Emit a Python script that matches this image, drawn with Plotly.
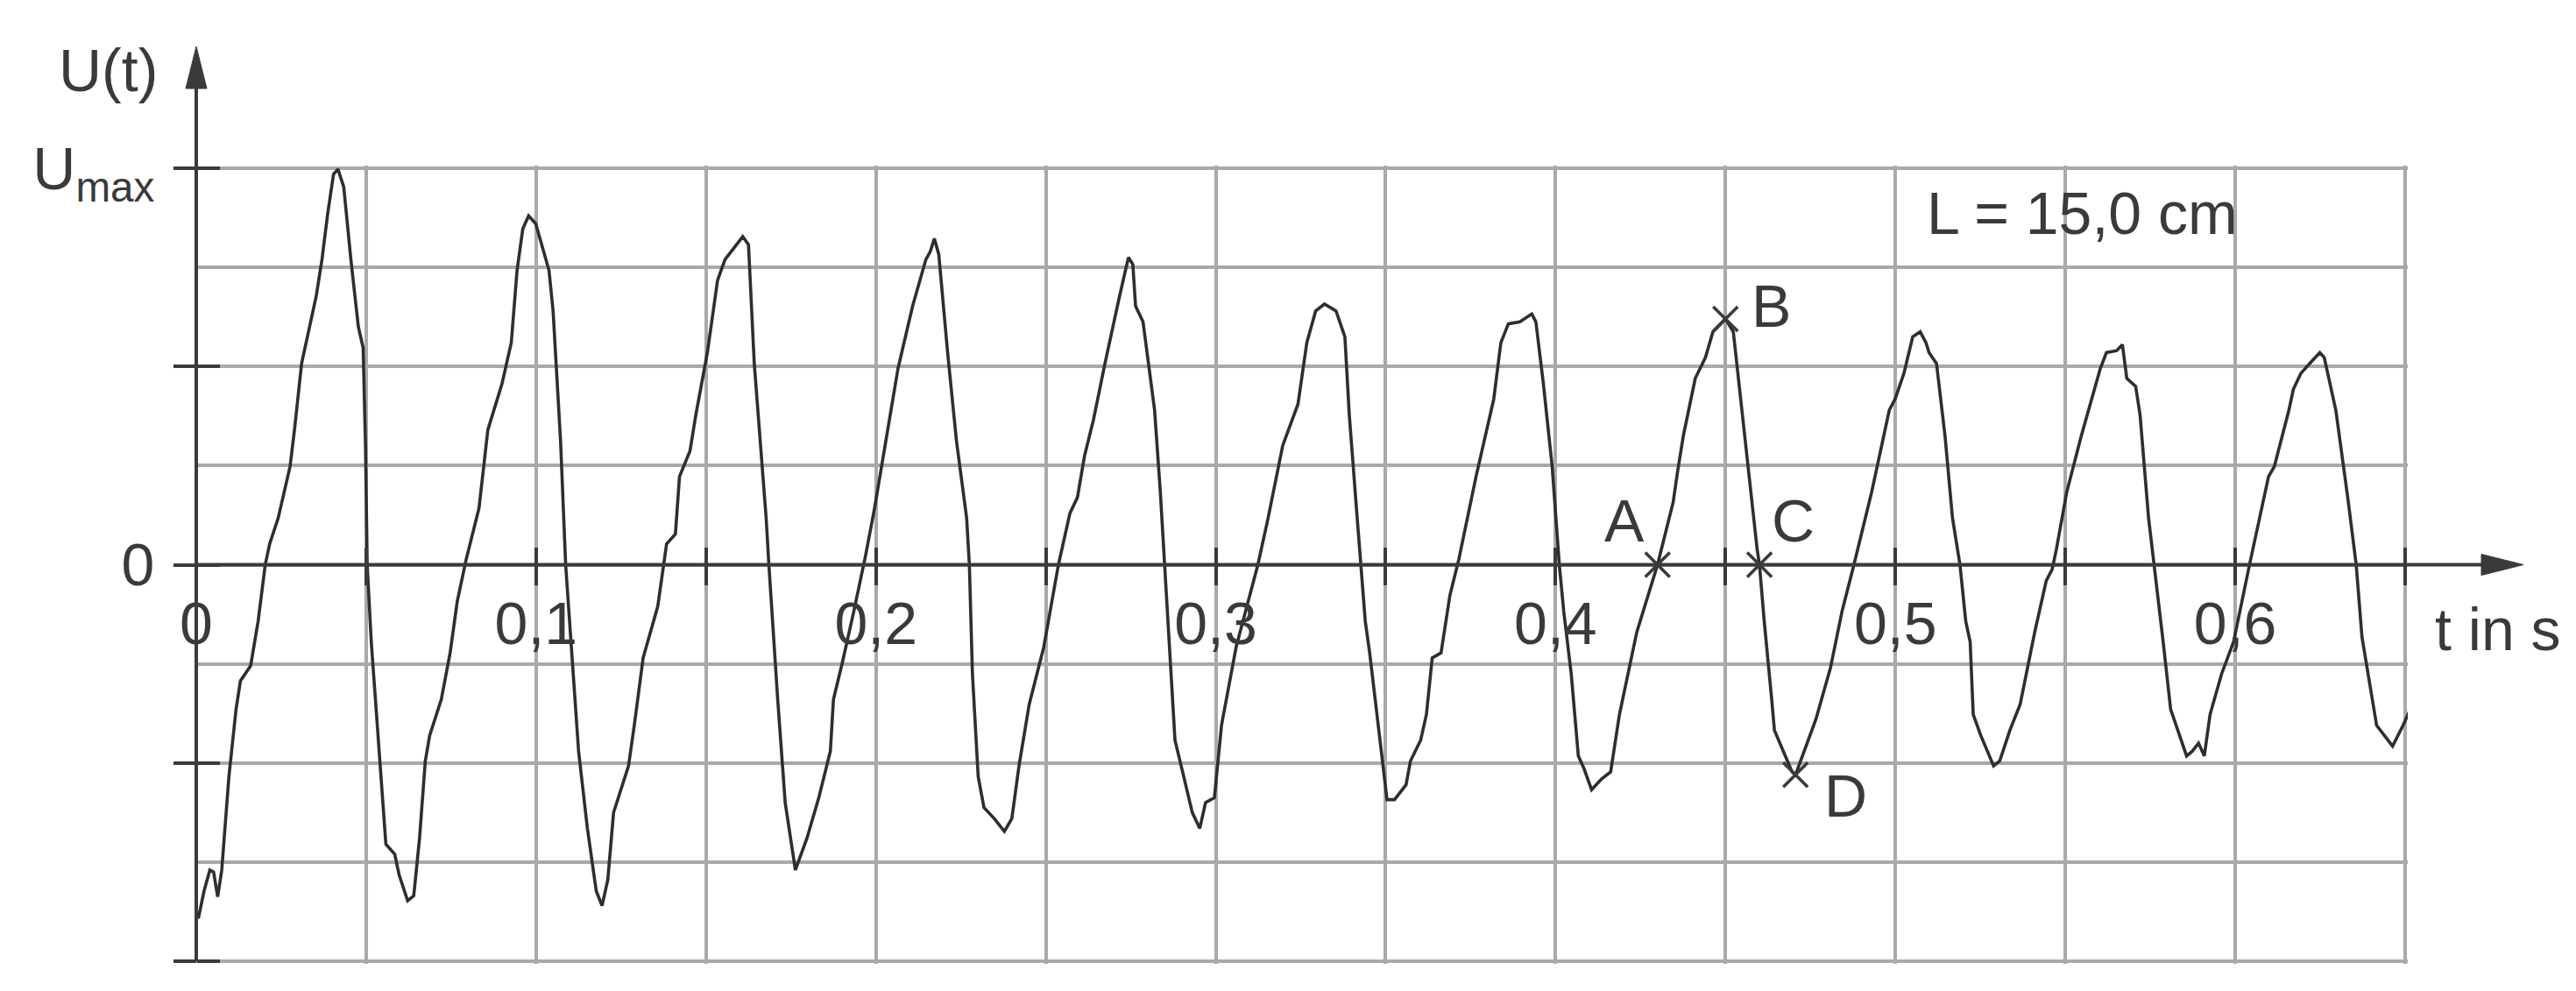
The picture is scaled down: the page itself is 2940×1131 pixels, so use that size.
import plotly.graph_objects as go

# ---------------- data ----------------
t_s = [0.0006, 0.0023, 0.004, 0.0051, 0.0063, 0.0075, 0.0096, 0.0117, 0.013, 0.016, 0.0182, 0.0203,
       0.0216, 0.0241, 0.0276, 0.0289, 0.031, 0.0353, 0.037, 0.0387, 0.0404, 0.0417, 0.0434, 0.0455,
       0.0477, 0.0491, 0.0498, 0.0503, 0.0515, 0.0533, 0.055, 0.0558, 0.0584, 0.0597, 0.0622, 0.064,
       0.0657, 0.0674, 0.0687, 0.0721, 0.0747, 0.0768, 0.0794, 0.0832, 0.0858, 0.09, 0.0927, 0.0944,
       0.0961, 0.0978, 0.0999, 0.1038, 0.105, 0.1072, 0.1087,
       0.1108, 0.1125, 0.1151, 0.1177, 0.1194, 0.1211, 0.1228, 0.1272, 0.1289, 0.1315, 0.1358, 0.1384,
       0.141, 0.1422, 0.1453, 0.147, 0.1504, 0.1534, 0.1556, 0.1608, 0.1625, 0.1642, 0.1677, 0.1685,
       0.1711, 0.1733, 0.1763, 0.1797, 0.1832, 0.1866, 0.1875, 0.1901, 0.1935, 0.197, 0.1996, 0.2065,
       0.2108, 0.2147, 0.216, 0.2172, 0.2185,
       0.2211, 0.2237, 0.2267, 0.2275, 0.2284, 0.2301, 0.2318, 0.2348, 0.2378, 0.24, 0.2421, 0.2451,
       0.2494, 0.2537, 0.2571, 0.2593, 0.2614, 0.264, 0.2674, 0.2717, 0.2743, 0.2756, 0.2764, 0.2786,
       0.282, 0.2837, 0.285, 0.2863, 0.288, 0.2906, 0.2931, 0.2953, 0.297, 0.2996, 0.3017, 0.306,
       0.3124, 0.3154, 0.3197, 0.3214,
       0.3242, 0.3268, 0.3294, 0.332, 0.3354, 0.338, 0.3393, 0.3414, 0.3427, 0.344, 0.3453, 0.3474,
       0.3491, 0.3504, 0.3526, 0.356, 0.3573, 0.3603, 0.362, 0.3637, 0.3663, 0.3689, 0.3715, 0.3766,
       0.3818, 0.3839, 0.3861, 0.3895, 0.393, 0.3942, 0.3964, 0.399, 0.4011, 0.4024, 0.4046, 0.4067,
       0.4084, 0.4106, 0.4136, 0.4162, 0.4188, 0.4239, 0.43,
       0.4346, 0.4359, 0.4376, 0.4411, 0.4441, 0.4463, 0.45, 0.4523, 0.4541, 0.4567, 0.4593, 0.46,
       0.4614, 0.4636, 0.4644, 0.467, 0.4696, 0.4706, 0.4731, 0.4766, 0.4809, 0.4843, 0.4878, 0.493,
       0.4982, 0.4999, 0.5025, 0.5051, 0.5073, 0.509, 0.5099, 0.5121, 0.5146, 0.5168, 0.519, 0.5207,
       0.522, 0.5229, 0.5251, 0.5289, 0.5307, 0.5337, 0.5367, 0.5389,
       0.541, 0.5444, 0.5461, 0.5474, 0.5504, 0.5547, 0.5603, 0.5621, 0.5651, 0.5668, 0.5681, 0.5707,
       0.572, 0.5745, 0.5762, 0.5788, 0.581, 0.5831, 0.5857, 0.5874, 0.5892, 0.5909, 0.5926, 0.596,
       0.5995, 0.6042, 0.6098, 0.6115, 0.6158, 0.6171, 0.6193, 0.6227, 0.6249, 0.6262, 0.6296, 0.6331,
       0.6356, 0.6373, 0.6416, 0.6463, 0.6494, 0.6528]

u_val = [-3.57, -3.29, -3.08, -3.10, -3.35, -3.08, -2.14, -1.46, -1.17, -1.02, -0.57, 0.0,
         0.21, 0.47, 0.99, 1.36, 2.03, 2.71, 3.08, 3.55, 3.94, 3.99, 3.81, 3.08,
         2.40, 2.19, 1.20, 0.0, -0.78, -1.62, -2.40, -2.82, -2.92, -3.13, -3.39, -3.34,
         -2.76, -1.98, -1.72, -1.36, -0.89, -0.37, 0.05, 0.57, 1.36, 1.83, 2.24, 2.97,
         3.39, 3.52, 3.44, 2.97, 2.56, 1.25, 0.0,
         -1.10, -1.88, -2.66, -3.29, -3.44, -3.18, -2.50, -2.03, -1.62, -0.94, -0.42, 0.21,
         0.31, 0.89, 1.15, 1.51, 2.14, 2.87, 3.08, 3.31, 3.23, 2.03, 0.47, 0.0,
         -1.36, -2.40, -3.08, -2.76, -2.35, -1.88, -1.36, -0.99, -0.47, 0.10, 0.57, 1.98,
         2.61, 3.08, 3.16, 3.29, 3.13,
         2.14, 1.25, 0.47, 0.0, -1.10, -2.14, -2.45, -2.56, -2.69, -2.56, -2.03, -1.41,
         -0.83, 0.0, 0.52, 0.68, 1.10, 1.46, 2.03, 2.71, 3.10, 3.03, 2.61, 2.45,
         1.56, 0.73, 0.0, -0.83, -1.77, -2.14, -2.50, -2.66, -2.40, -2.35, -1.62, -0.83,
         0.0, 0.47, 1.20, 1.36,
         1.62, 2.24, 2.56, 2.63, 2.56, 2.30, 1.51, 0.57, 0.0, -0.57, -0.89, -1.51,
         -2.03, -2.37, -2.37, -2.22, -1.98, -1.77, -1.51, -0.94, -0.89, -0.31, 0.05, 0.89,
         1.67, 2.24, 2.43, 2.45, 2.53, 2.45, 1.83, 0.99, 0.0, -0.47, -1.10, -1.93,
         -2.06, -2.27, -2.16, -2.09, -1.51, -0.68, 0.0,
         0.63, 0.94, 1.30, 1.88, 2.09, 2.35, 2.48, 2.35, 1.77, 0.99, 0.16, 0.0,
         -0.57, -1.36, -1.67, -1.88, -2.09, -2.12, -1.88, -1.56, -1.04, -0.47, 0.0, 0.73,
         1.56, 1.67, 1.93, 2.30, 2.35, 2.24, 2.14, 2.03, 1.30, 0.47, 0.0, -0.57,
         -0.78, -1.51, -1.72, -2.03, -1.98, -1.67, -1.41, -1.04,
         -0.68, -0.16, -0.05, 0.16, 0.73, 1.30, 1.98, 2.14, 2.16, 2.22, 1.88, 1.80,
         1.51, 0.47, 0.0, -0.78, -1.46, -1.67, -1.93, -1.88, -1.80, -1.93, -1.51, -1.10,
         -0.78, 0.0, 0.89, 0.99, 1.56, 1.77, 1.93, 2.06, 2.14, 2.09, 1.56, 0.68,
         0.0, -0.73, -1.62, -1.83, -1.62, -1.36]

x_tick_vals = [0.0, 0.05, 0.1, 0.15, 0.2, 0.25, 0.3, 0.35, 0.4, 0.45, 0.5, 0.55, 0.6, 0.65]
x_tick_text = ["0", "", "0,1", "", "0,2", "", "0,3", "", "0,4", "", "0,5", "", "0,6", ""]
y_tick_vals = [-4, -2, 0, 2, 4]
y_tick_text = ["", "", "0", "", "U<sub>max</sub>"]

point_names = ["A", "B", "C", "D"]
point_t = [0.43, 0.45, 0.46, 0.4706]
point_u = [0.0, 2.48, 0.0, -2.12]
label_dx = [-38, 52, 38, 57]     # label offsets from the points (pixels)
label_dy = [51, 15, 51, -24]

# ---------------- styling ----------------
FONT = "Liberation Sans, Arial, Helvetica, sans-serif"
INK = "#3a3a3a"
GRID = "#a9a9a9"
FS = 68
PAD = 3                      # extra pixels so the edge grid lines are not dropped
Y_PX_PER_UNIT = 905 / 8.0
X_PX_PER_S = 2521 / 0.65
y_range = [-4 - PAD / Y_PX_PER_UNIT, 4 + PAD / Y_PX_PER_UNIT]
x_range = [0, 0.65 + PAD / X_PX_PER_S]

fig = go.Figure()
fig.add_trace(go.Scatter(x=t_s, y=u_val, mode="lines",
                         line=dict(color="#2e2e2e", width=3.6),
                         cliponaxis=False, showlegend=False, hoverinfo="skip"))
fig.add_trace(go.Scatter(x=point_t, y=point_u, mode="markers",
                         marker=dict(symbol="x-thin", size=28,
                                     line=dict(width=3.6, color=INK)),
                         cliponaxis=False, showlegend=False, hoverinfo="skip"))
# invisible trace so the overlay axes (crossing tick marks) are drawn
fig.add_trace(go.Scatter(x=[None], y=[None], xaxis="x2", yaxis="y2",
                         showlegend=False, hoverinfo="skip"))

annotations = []
for n, pt, pu, dx, dy in zip(point_names, point_t, point_u, label_dx, label_dy):
    annotations.append(dict(x=pt, y=pu, xref="x", yref="y", text=n, showarrow=False,
                            xshift=dx, yshift=dy,
                            font=dict(family=FONT, size=FS, color=INK)))
annotations += [
    dict(x=0, y=4, xref="x", yref="y", text="U(t)", showarrow=False,
         xshift=-101, yshift=112, font=dict(family=FONT, size=FS, color=INK)),
    dict(x=0.65, y=0, xref="x", yref="y", text="t in s", showarrow=False,
         xshift=106, yshift=-73, font=dict(family=FONT, size=FS, color=INK)),
    dict(x=0.5086, y=3.55, xref="x", yref="y", text="L = 15,0 cm", showarrow=False,
         xanchor="left", font=dict(family=FONT, size=FS, color=INK)),
]

shapes = [
    # horizontal (time) axis with arrow
    dict(type="line", xref="paper", xsizemode="pixel", xanchor=0, x0=0, x1=2612,
         yref="paper", y0=0.5, y1=0.5, line=dict(color=INK, width=4), layer="above"),
    dict(type="path", xref="paper", xsizemode="pixel", xanchor=0,
         yref="paper", ysizemode="pixel", yanchor=0.5,
         path="M 2608 -12 L 2656 0 L 2608 12 Z", fillcolor=INK,
         line=dict(color=INK, width=1), layer="above"),
    # vertical (U) axis with arrow
    dict(type="line", xref="paper", x0=0, x1=0,
         yref="paper", ysizemode="pixel", yanchor=0, y0=PAD, y1=PAD + 998,
         line=dict(color=INK, width=4), layer="above"),
    dict(type="path", xref="paper", xsizemode="pixel", xanchor=0,
         yref="paper", ysizemode="pixel", yanchor=0,
         path="M -12 %d L 0 %d L 12 %d Z" % (PAD + 996, PAD + 1044, PAD + 996),
         fillcolor=INK, line=dict(color=INK, width=1), layer="above"),
]

fig.update_layout(
    width=2940, height=1131, autosize=False,
    margin=dict(l=216, r=203 - PAD, t=184 - PAD, b=42 - PAD, pad=0),
    paper_bgcolor="white", plot_bgcolor="white",
    font=dict(family=FONT, size=FS, color=INK),
    xaxis=dict(range=x_range, tickmode="array", tickvals=x_tick_vals, ticktext=x_tick_text,
               anchor="free", position=0.5, side="bottom",
               ticks="outside", ticklen=22, tickwidth=4, tickcolor=INK,
               ticklabelstandoff=-14,
               tickfont=dict(family=FONT, size=FS, color=INK),
               showgrid=True, gridcolor=GRID, gridwidth=3.5,
               zeroline=False, showline=False, fixedrange=True),
    xaxis2=dict(range=x_range, overlaying="x", anchor="free", position=0.5, side="top",
                tickmode="array", tickvals=x_tick_vals, showticklabels=False,
                ticks="outside", ticklen=20, tickwidth=4, tickcolor=INK,
                showgrid=False, zeroline=False, showline=False),
    yaxis=dict(range=y_range, tickmode="array", tickvals=y_tick_vals, ticktext=y_tick_text,
               anchor="free", position=0, side="left",
               ticks="outside", ticklen=26, tickwidth=4, tickcolor=INK,
               ticklabelstandoff=8,
               tickfont=dict(family=FONT, size=FS, color=INK),
               showgrid=True, gridcolor=GRID, gridwidth=3.5,
               minor=dict(dtick=1, tick0=0, showgrid=True, gridcolor=GRID, gridwidth=3.5, ticks=""),
               zeroline=False, showline=False, fixedrange=True),
    yaxis2=dict(range=y_range, overlaying="y", anchor="free", position=0, side="right",
                tickmode="array", tickvals=y_tick_vals, showticklabels=False,
                ticks="outside", ticklen=26, tickwidth=4, tickcolor=INK,
                showgrid=False, zeroline=False, showline=False),
    annotations=annotations,
    shapes=shapes,
    showlegend=False,
)

fig.write_html("out.html")
